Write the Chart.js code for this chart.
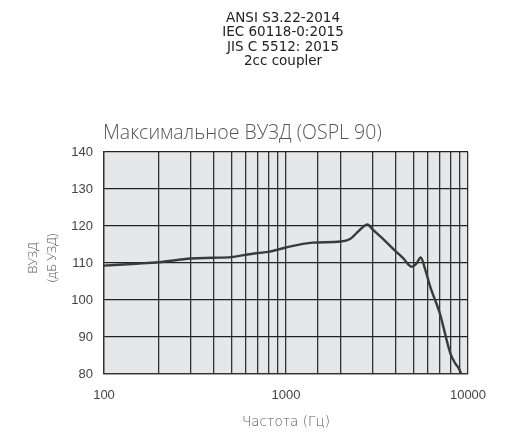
<!DOCTYPE html>
<html>
<head>
<meta charset="utf-8">
<script src="https://cdn.jsdelivr.net/npm/chart.js@4"></script>
<style>
  html, body { margin: 0; padding: 0; background: #fff; }
  canvas { display: block; }
</style>
</head>
<body>
<canvas id="ospl" width="515" height="433"></canvas>
<script>
// header text above the chart
const headerLines = ['ANSI S3.22-2014', 'IEC 60118-0:2015', 'JIS C 5512: 2015', '2cc coupler'];
const chartTitle = 'Максимальное ВУЗД (OSPL 90)';
const xTitle = 'Частота (Гц)';
const yTitle = ['ВУЗД', '(дБ УЗД)'];

// curve: frequency (Hz) / level (dB SPL)
const freqs = [100, 150, 200, 300, 400, 500, 600, 700, 800, 900, 1000, 1400, 2000, 2250, 2550, 2800, 3000, 3500, 4000, 4400, 4900, 5200, 5500, 5800, 6200, 7000, 8000, 8500, 8900, 9150];
const levels = [109.3, 109.8, 110.2, 111.2, 111.4, 111.6, 112.2, 112.7, 113.0, 113.6, 114.2, 115.5, 115.8, 116.5, 119.0, 120.4, 119.0, 116.0, 113.2, 111.3, 109.0, 109.8, 111.5, 108.5, 103.6, 96.4, 85.6, 82.9, 81.5, 80.2];

// axis ticks
const xLabelTicks = [100, 1000, 10000];
const yTicks = [80, 90, 100, 110, 120, 130, 140];

const DEJAVU = '"DejaVu Sans", sans-serif';
const OPEN = '"Open Sans", sans-serif';

// pick a font size so the text spans roughly the width seen in the picture
function fitFont(ctx, text, weight, family, base, target, maxSize) {
  ctx.font = `${weight} ${base}px ${family}`;
  let size = base * target / ctx.measureText(text).width;
  if (maxSize) size = Math.min(size, maxSize);
  ctx.font = `${weight} ${size.toFixed(2)}px ${family}`;
}

const textPlugin = {
  id: 'texts',
  beforeDraw(chart) {
    const { ctx, chartArea } = chart;
    ctx.save();
    ctx.fillStyle = '#e6e7e8';
    ctx.fillRect(chartArea.left, chartArea.top, chartArea.right - chartArea.left, chartArea.bottom - chartArea.top);
    ctx.restore();
  },
  afterDraw(chart) {
    const { ctx } = chart;
    ctx.save();
    ctx.textAlign = 'center';
    ctx.textBaseline = 'middle';
    ctx.fillStyle = '#222';
    fitFont(ctx, headerLines[0], 400, DEJAVU, 13, 120, 13.5);
    headerLines.forEach((t, i) => ctx.fillText(t, 283, 18.5 + i * 14.4));

    ctx.textAlign = 'left';
    ctx.textBaseline = 'alphabetic';
    ctx.fillStyle = '#555';
    fitFont(ctx, chartTitle, 300, OPEN, 17, 303, 19.5);
    ctx.fillText(chartTitle, 103, 139);

    ctx.textAlign = 'center';
    ctx.textBaseline = 'middle';
    ctx.fillStyle = '#5a5a5a';
    fitFont(ctx, xTitle, 300, DEJAVU, 12, 88, 13.5);
    ctx.fillText(xTitle, 286, 422);

    ctx.translate(0, 258);
    ctx.rotate(-Math.PI / 2);
    fitFont(ctx, yTitle[1], 300, OPEN, 12, 53, 13);
    ctx.fillText(yTitle[0], 0, 33);
    ctx.fillText(yTitle[1], 0, 52);
    ctx.restore();
  }
};

new Chart(document.getElementById('ospl'), {
  type: 'line',
  data: {
    datasets: [{
      data: freqs.map((f, i) => ({ x: f, y: levels[i] })),
      borderColor: '#3a3a3a',
      borderWidth: 2.4,
      pointRadius: 0,
      cubicInterpolationMode: 'monotone',
      fill: false
    }]
  },
  options: {
    responsive: false,
    animation: false,
    layout: { padding: { left: 0, right: 47, top: 152, bottom: 0 } },
    plugins: { legend: { display: false }, tooltip: { enabled: false } },
    scales: {
      x: {
        type: 'logarithmic',
        min: 100,
        max: 10000,
        afterFit: (s) => { s.height = 59; },
        grid: { color: '#333', lineWidth: 1.3, drawTicks: false },
        border: { color: '#333', width: 1.3 },
        ticks: {
          autoSkip: false,
          maxRotation: 0,
          padding: 14,
          color: '#444',
          font: { family: '"Liberation Sans", Arial', size: 13 },
          callback: (v) => xLabelTicks.includes(v) ? String(v) : ''
        }
      },
      y: {
        min: 80,
        max: 140,
        afterFit: (s) => { s.width = 104; },
        afterBuildTicks: (s) => { s.ticks = yTicks.map(v => ({ value: v })); },
        grid: { color: '#222', lineWidth: 1.3, drawTicks: false },
        border: { color: '#333', width: 1.3 },
        ticks: {
          padding: 11,
          color: '#444',
          font: { family: '"Liberation Sans", Arial', size: 13 }
        }
      }
    }
  },
  plugins: [textPlugin]
});
</script>
</body>
</html>
